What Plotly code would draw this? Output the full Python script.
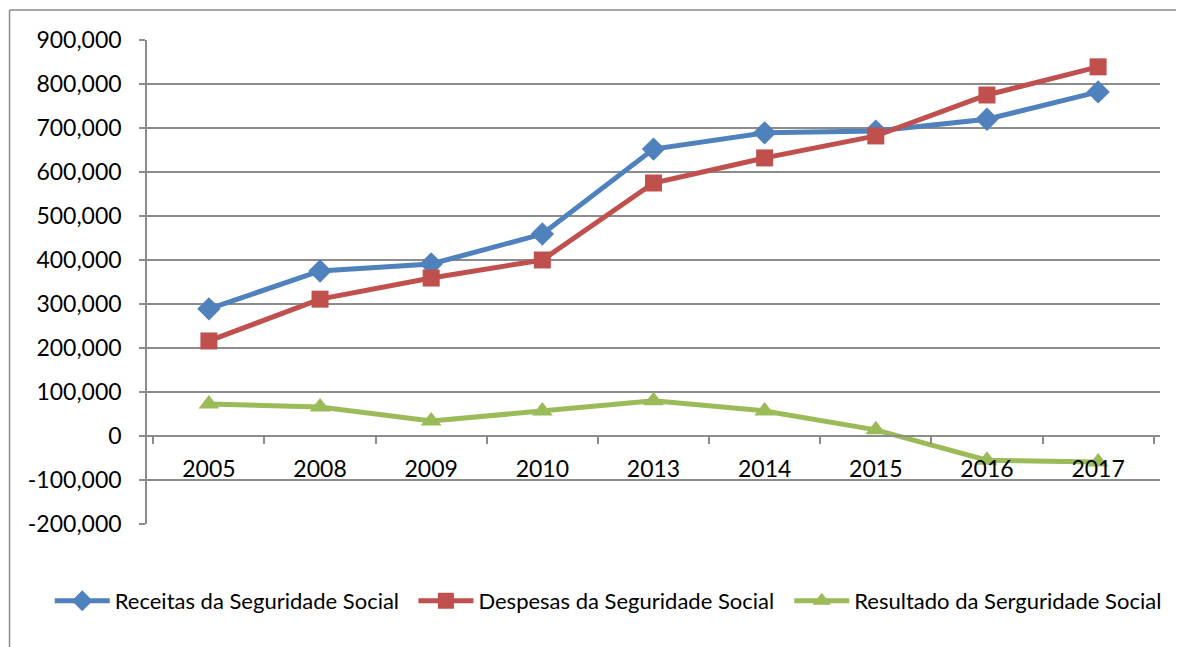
import plotly.graph_objects as go

anos = ['2005', '2008', '2009', '2010', '2013', '2014', '2015', '2016', '2017']
receitas = [289000, 375000, 391000, 459000, 652000, 689000, 693000, 720000, 782000]
despesas = [216000, 311000, 359000, 400000, 575000, 632000, 682000, 775000, 839000]
resultado = [73000, 66000, 34000, 57000, 80000, 57000, 14000, -55000, -59000]

y_ticks = [-200000, -100000, 0, 100000, 200000, 300000, 400000, 500000, 600000, 700000, 800000, 900000]
y_labels = ['-200,000', '-100,000', '0', '100,000', '200,000', '300,000', '400,000',
            '500,000', '600,000', '700,000', '800,000', '900,000']

fig = go.Figure()
fig.add_trace(go.Scatter(x=anos, y=receitas, name='Receitas da Seguridade Social',
                         mode='lines+markers', line=dict(color='#4F81BD', width=5),
                         marker=dict(symbol='diamond', size=18, color='#4F81BD'),
                         legend='legend'))
fig.add_trace(go.Scatter(x=anos, y=despesas, name='Despesas da Seguridade Social',
                         mode='lines+markers', line=dict(color='#C0504D', width=5),
                         marker=dict(symbol='square', size=17, color='#C0504D'),
                         legend='legend2'))
fig.add_trace(go.Scatter(x=anos, y=resultado, name='Resultado da Serguridade Social',
                         mode='lines+markers', line=dict(color='#9BBB59', width=5),
                         marker=dict(symbol='triangle-up', size=18, color='#9BBB59'),
                         legend='legend3'))

grid = '#8c8c8c'
leg = dict(orientation='h', xanchor='left', y=-0.159, yanchor='middle',
           itemwidth=55, font=dict(size=22), bgcolor='rgba(0,0,0,0)')
# the page body adds 8px, so the figure is 8px smaller and margins shifted
fig.update_layout(
    width=1176, height=639,
    margin=dict(l=139, r=24, t=32, b=123),
    plot_bgcolor='white', paper_bgcolor='white',
    font=dict(family='Lato', size=23, color='black'),
    showlegend=True,
    legend=dict(leg, x=-0.096),
    legend2=dict(leg, x=0.263),
    legend3=dict(leg, x=0.634),
    xaxis=dict(type='category', anchor='free', position=200/1100, automargin=False,
               showline=True, linecolor=grid, linewidth=1.5,
               ticks='outside', tickson='boundaries', ticklen=7, tickcolor=grid, tickwidth=1.5,
               showgrid=False, ticklabelstandoff=13),
    yaxis=dict(range=[-200000, 900000], tickvals=y_ticks, ticktext=y_labels, automargin=False,
               showline=True, linecolor=grid, linewidth=1.5,
               ticks='outside', ticklen=6, tickcolor=grid, tickwidth=1.5,
               gridcolor=grid, gridwidth=1.5, zeroline=False, ticklabelstandoff=13),
    shapes=[
        dict(type='line', xref='paper', yref='paper', x0=-0.1357, x1=-0.1357, y0=-0.6, y1=1.062,
             line=dict(color=grid, width=1.5)),
        dict(type='line', xref='paper', yref='paper', x0=-0.1357, x1=1.1, y0=1.062, y1=1.062,
             line=dict(color=grid, width=1.5)),
    ],
)

fig.write_html('out.html')
